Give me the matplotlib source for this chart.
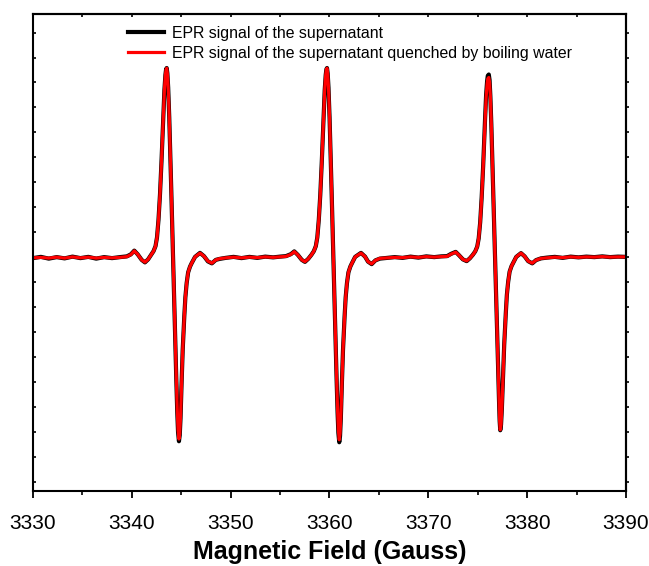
import matplotlib
matplotlib.use("Agg")
import matplotlib.pyplot as plt
from matplotlib.ticker import MultipleLocator, NullFormatter

plt.rcParams['font.family'] = ['Liberation Sans', 'DejaVu Sans']

# Magnetic field (Gauss)
field = [
    3330.0, 3330.8, 3331.6, 3332.4, 3333.2, 3334.0, 3334.8, 3335.6, 3336.4, 3337.2,
    3338.0, 3338.8, 3339.5, 3339.9, 3340.25, 3340.6, 3341.0, 3341.33, 3341.65,
    3341.95, 3342.2, 3342.4, 3342.55, 3342.7, 3342.85, 3343.0, 3343.1, 3343.2, 3343.3,
    3343.4, 3343.47, 3343.53, 3343.6, 3343.68, 3343.79, 3343.9, 3344.0, 3344.1, 3344.2,
    3344.3, 3344.4, 3344.5, 3344.6, 3344.68, 3344.77, 3344.85, 3344.93, 3345.04, 3345.15,
    3345.31, 3345.42, 3345.55, 3345.7, 3345.89, 3346.06, 3346.4, 3346.9, 3347.3, 3347.7,
    3348.1, 3348.5, 3348.9, 3349.5, 3350.3, 3351.1, 3351.9, 3352.7, 3353.5, 3354.3,
    3355.0, 3355.6, 3356.1, 3356.44, 3356.8, 3357.2, 3357.52, 3357.85,
    3358.17, 3358.42, 3358.62, 3358.77, 3358.92, 3359.07, 3359.22, 3359.32, 3359.42, 3359.52,
    3359.62, 3359.69, 3359.75, 3359.82, 3359.9, 3360.01, 3360.12, 3360.22, 3360.32, 3360.42,
    3360.52, 3360.62, 3360.72, 3360.82, 3360.9, 3360.99, 3361.07, 3361.15, 3361.26, 3361.37,
    3361.53, 3361.64, 3361.77, 3361.92, 3362.11, 3362.28, 3362.6, 3363.19, 3363.6, 3363.9,
    3364.27, 3364.65, 3365.1, 3365.8, 3366.6, 3367.4, 3368.2, 3369.0, 3369.8, 3370.6,
    3371.3, 3371.9, 3372.3, 3372.77, 3373.1, 3373.5, 3373.88, 3374.2,
    3374.5, 3374.75, 3374.95, 3375.1, 3375.25, 3375.4, 3375.55, 3375.65, 3375.75, 3375.85,
    3375.95, 3376.02, 3376.12, 3376.2, 3376.28, 3376.38, 3376.48, 3376.58, 3376.68, 3376.78,
    3376.88, 3376.98, 3377.07, 3377.16, 3377.22, 3377.28, 3377.36, 3377.44, 3377.56, 3377.68,
    3377.84, 3377.95, 3378.08, 3378.23, 3378.42, 3378.59, 3378.9, 3379.38, 3379.75, 3380.1,
    3380.52, 3380.9, 3381.4, 3382.0, 3382.8, 3383.6, 3384.4, 3385.2, 3386.0, 3386.8,
    3387.6, 3388.4, 3389.2, 3390.0,
]

# Signal of the supernatant (a.u.)
supernatant = [
    -0.03, 0.02, -0.05, 0.01, -0.04, 0.03, -0.03, 0.02, -0.05, 0.01,
    -0.03, 0.01, 0.04, 0.12, 0.27, 0.12, -0.10, -0.20, -0.08,
    0.10, 0.25, 0.45, 0.80, 1.50, 2.50, 3.80, 4.80, 5.80, 6.70,
    7.30, 7.53, 7.58, 7.36, 6.80, 5.60, 4.10, 2.60, 1.10, -0.40,
    -1.90, -3.40, -4.85, -6.20, -7.00, -7.36, -7.12, -6.45, -5.00, -3.70,
    -2.37, -1.60, -1.03, -0.60, -0.37, -0.23, 0.02, 0.18, 0.05, -0.16,
    -0.24, -0.10, -0.06, -0.02, 0.02, -0.03, 0.02, -0.02, 0.03, 0.00,
    0.03, 0.05, 0.13, 0.24, 0.10, -0.10, -0.18, -0.06,
    0.10, 0.25, 0.45, 0.80, 1.50, 2.50, 3.80, 4.80, 5.80, 6.70,
    7.30, 7.53, 7.58, 7.36, 6.80, 5.60, 4.10, 2.60, 1.10, -0.40,
    -1.90, -3.40, -4.85, -6.20, -7.02, -7.40, -7.15, -6.45, -5.00, -3.70,
    -2.37, -1.60, -1.03, -0.60, -0.37, -0.23, 0.02, 0.18, 0.03, -0.17,
    -0.27, -0.12, -0.05, -0.02, 0.01, -0.02, 0.03, -0.01, 0.04, 0.01,
    0.04, 0.05, 0.14, 0.22, 0.09, -0.08, -0.15, -0.04,
    0.10, 0.24, 0.43, 0.76, 1.40, 2.40, 3.65, 4.65, 5.60, 6.50,
    7.05, 7.27, 7.32, 7.10, 6.45, 5.30, 3.90, 2.50, 1.00, -0.40,
    -1.80, -3.20, -4.55, -5.80, -6.55, -6.92, -6.70, -6.10, -4.75, -3.50,
    -2.25, -1.50, -0.98, -0.57, -0.35, -0.22, 0.02, 0.17, 0.04, -0.15,
    -0.24, -0.11, -0.04, -0.01, 0.02, -0.02, 0.03, 0.00, 0.03, 0.01,
    0.04, 0.01, 0.03, 0.02,
]

# Signal of the supernatant quenched by boiling water (a.u.)
quenched = [
    -0.02, 0.00, -0.03, 0.01, -0.03, 0.02, -0.02, 0.01, -0.03, 0.00,
    -0.02, 0.00, 0.03, 0.11, 0.26, 0.12, -0.10, -0.19, -0.08,
    0.10, 0.25, 0.45, 0.80, 1.50, 2.50, 3.80, 4.80, 5.80, 6.70,
    7.30, 7.52, 7.57, 7.35, 6.80, 5.60, 4.10, 2.60, 1.10, -0.40,
    -1.90, -3.40, -4.80, -6.10, -6.90, -7.27, -7.05, -6.40, -5.00, -3.70,
    -2.37, -1.60, -1.03, -0.60, -0.37, -0.23, 0.02, 0.17, 0.05, -0.15,
    -0.23, -0.10, -0.05, -0.02, 0.01, -0.02, 0.01, -0.01, 0.02, 0.00,
    0.02, 0.04, 0.12, 0.23, 0.10, -0.10, -0.17, -0.06,
    0.10, 0.25, 0.45, 0.80, 1.50, 2.50, 3.80, 4.80, 5.80, 6.70,
    7.30, 7.52, 7.57, 7.35, 6.80, 5.60, 4.10, 2.60, 1.10, -0.40,
    -1.90, -3.40, -4.80, -6.10, -6.90, -7.30, -7.05, -6.40, -5.00, -3.70,
    -2.37, -1.60, -1.03, -0.60, -0.37, -0.23, 0.02, 0.17, 0.03, -0.17,
    -0.26, -0.12, -0.04, -0.02, 0.00, -0.01, 0.02, 0.00, 0.03, 0.01,
    0.03, 0.04, 0.13, 0.21, 0.09, -0.08, -0.14, -0.04,
    0.10, 0.24, 0.43, 0.76, 1.40, 2.40, 3.60, 4.60, 5.50, 6.40,
    6.95, 7.15, 7.20, 7.00, 6.45, 5.30, 3.90, 2.50, 1.00, -0.40,
    -1.80, -3.20, -4.55, -5.80, -6.55, -6.90, -6.70, -6.10, -4.75, -3.50,
    -2.25, -1.50, -0.98, -0.57, -0.35, -0.22, 0.02, 0.17, 0.04, -0.15,
    -0.23, -0.11, -0.04, -0.02, 0.01, -0.01, 0.02, 0.00, 0.02, 0.01,
    0.03, 0.01, 0.02, 0.02,
]

series_labels = [
    "EPR signal of the supernatant",
    "EPR signal of the supernatant quenched by boiling water",
]

fig = plt.figure(figsize=(6.49, 5.66), dpi=100)
ax = fig.add_axes([0.0508, 0.1330, 0.9137, 0.8422])

ax.plot(field, supernatant, color="black", lw=3.0, solid_joinstyle="round",
        label=series_labels[0])
ax.plot(field, quenched, color="red", lw=2.3, solid_joinstyle="round",
        label=series_labels[1])

ax.set_xlim(3330, 3390)
ax.set_ylim(-9.34, 9.74)

for sp in ax.spines.values():
    sp.set_linewidth(1.5)

# bottom axis: labelled, outward ticks
ax.xaxis.set_major_locator(MultipleLocator(10))
ax.xaxis.set_minor_locator(MultipleLocator(5))
ax.tick_params(axis="x", which="major", direction="out", length=5, width=1.3,
               labelsize=15, pad=12)
ax.tick_params(axis="x", which="minor", direction="out", length=3, width=1.2)

# left axis: short inward ticks, no labels
ax.yaxis.set_major_locator(MultipleLocator(1))
ax.yaxis.set_major_formatter(NullFormatter())
ax.tick_params(axis="y", which="major", direction="in", length=2, width=1.2)

# top and right axes: tick marks only
top = ax.secondary_xaxis("top")
top.xaxis.set_major_locator(MultipleLocator(5))
top.xaxis.set_major_formatter(NullFormatter())
top.tick_params(direction="in", length=2, width=1.2)
top.spines["top"].set_linewidth(1.5)

right = ax.secondary_yaxis("right")
right.yaxis.set_major_locator(MultipleLocator(1))
right.yaxis.set_major_formatter(NullFormatter())
right.tick_params(direction="out", length=2, width=1.2)
right.spines["right"].set_linewidth(1.5)

xlab = ax.set_xlabel("Magnetic Field (Gauss)", fontsize=18, fontweight="bold")
xlab.set_verticalalignment("center")
ax.xaxis.set_label_coords(0.5, -0.128)

ax.legend(loc="upper left", bbox_to_anchor=(0.16, 0.975), frameon=False,
          fontsize=11.4, handlelength=2.3, handletextpad=0.5, labelspacing=0.3,
          borderpad=0, borderaxespad=0)

fig.savefig("out.png", dpi=100)
